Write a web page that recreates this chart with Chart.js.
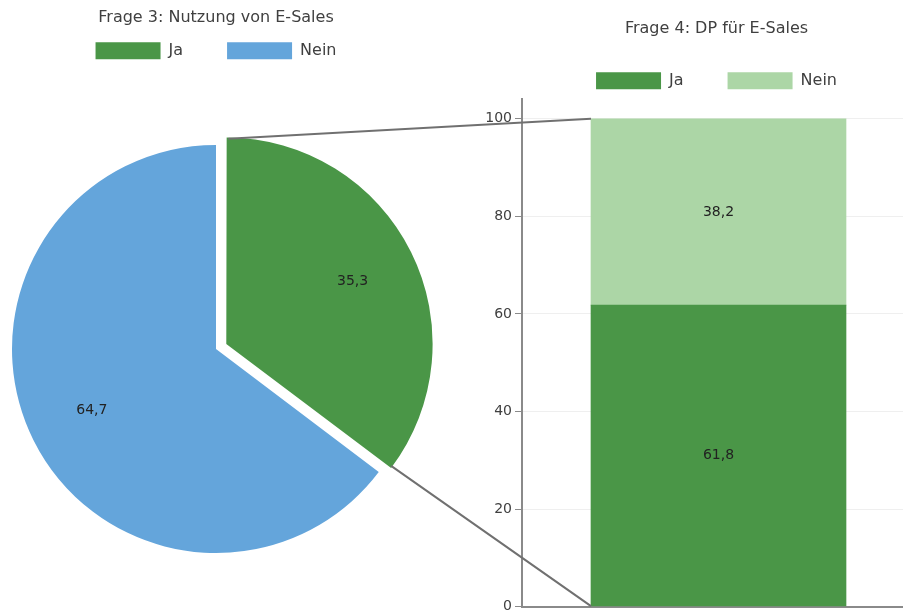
<!DOCTYPE html>
<html>
<head>
<meta charset="utf-8">
<script src="https://cdn.jsdelivr.net/npm/chart.js@4.4.1/dist/chart.umd.min.js"></script>
<style>
  html, body { margin: 0; padding: 0; background: #fff; overflow: hidden; width: 903px; height: 615px; }
  #pieWrap { position: absolute; left: 0; top: 0; width: 452px; height: 627px; }
  #barWrap { position: absolute; left: 440px; top: 0; width: 557px; height: 618px; }
  #links { position: absolute; left: 0; top: 0; pointer-events: none; }
</style>
</head>
<body>
<div id="pieWrap"><canvas id="pieChart"></canvas></div>
<div id="barWrap"><canvas id="barChart"></canvas></div>
<canvas id="links" width="903" height="615"></canvas>
<script>
const answerLabels = ['Ja', 'Nein'];
const q3Values = [35.3, 64.7];
const q4Ja = [61.8];
const q4Nein = [38.2];
const q4Categories = ['DP für E-Sales'];
const yTicks = [0, 20, 40, 60, 80, 100];

const green = '#4a9647';
const blue = '#64a5db';
const lightGreen = '#acd6a6';
const textColor = '#404040';
const font = 'DejaVu Sans';

Chart.defaults.font.family = font;
Chart.defaults.color = textColor;

const fmt = v => String(v).replace('.', ',');

// how far Chart.js really moves an arc with an offset (see ArcElement.draw)
function arcShift(arc) {
  const p = arc.getProps(['startAngle', 'endAngle', 'circumference']);
  const off = (arc.options.offset || 0) / 4;
  const fix = 1 - Math.sin(Math.min(Math.PI, p.circumference || 0));
  const d = off + off * fix;
  const mid = (p.startAngle + p.endAngle) / 2;
  return [Math.cos(mid) * d, Math.sin(mid) * d];
}

// value labels for the pie
const pieLabels = {
  id: 'pieLabels',
  afterDatasetsDraw(chart) {
    const ctx = chart.ctx;
    const meta = chart.getDatasetMeta(0);
    ctx.save();
    ctx.font = '14px ' + font;
    ctx.fillStyle = '#222';
    ctx.textAlign = 'center';
    ctx.textBaseline = 'middle';
    meta.data.forEach((arc, i) => {
      const p = arc.getProps(['x', 'y', 'startAngle', 'endAngle', 'outerRadius']);
      const mid = (p.startAngle + p.endAngle) / 2;
      const s = arcShift(arc);
      const r = p.outerRadius * 0.68;
      ctx.fillText(fmt(q3Values[i]), p.x + s[0] + Math.cos(mid) * r, p.y + s[1] + Math.sin(mid) * r);
    });
    ctx.restore();
  }
};

// value labels in the middle of each stacked bar segment
const barLabels = {
  id: 'barLabels',
  afterDatasetsDraw(chart) {
    const ctx = chart.ctx;
    ctx.save();
    ctx.font = '14px ' + font;
    ctx.fillStyle = '#222';
    ctx.textAlign = 'center';
    ctx.textBaseline = 'middle';
    chart.data.datasets.forEach((ds, di) => {
      chart.getDatasetMeta(di).data.forEach((bar, i) => {
        const p = bar.getProps(['x', 'y', 'base']);
        ctx.fillText(fmt(ds.data[i]), p.x, (p.y + p.base) / 2);
      });
    });
    ctx.restore();
  }
};

const legendLabels = {
  boxWidth: 65,
  boxHeight: 17,
  padding: 44,
  color: textColor,
  font: { size: 16 }
};

const pieChart = new Chart(document.getElementById('pieChart'), {
  type: 'pie',
  data: {
    labels: answerLabels,
    datasets: [{
      data: q3Values,
      backgroundColor: [green, blue],
      borderWidth: 0,
      offset: [46, 0],
      radius: 204,
      clip: false
    }]
  },
  options: {
    responsive: true,
    maintainAspectRatio: false,
    animation: false,
    layout: { padding: { right: 20 } },
    plugins: {
      title: {
        display: true,
        text: 'Frage 3: Nutzung von E-Sales',
        color: textColor,
        font: { size: 16, weight: 'normal' },
        padding: { top: 8, bottom: -29 }
      },
      legend: { labels: legendLabels },
      tooltip: { enabled: false }
    }
  },
  plugins: [pieLabels]
});

const barChart = new Chart(document.getElementById('barChart'), {
  type: 'bar',
  data: {
    labels: q4Categories,
    datasets: [
      { label: 'Ja', data: q4Ja, backgroundColor: green, barThickness: 255 },
      { label: 'Nein', data: q4Nein, backgroundColor: lightGreen, barThickness: 255 }
    ]
  },
  options: {
    responsive: true,
    maintainAspectRatio: false,
    animation: false,
    layout: { padding: { left: 32, right: 36, top: 14, bottom: 2 } },
    scales: {
      x: {
        stacked: true,
        grid: { display: false, drawTicks: false },
        ticks: { display: false },
        border: { color: '#8a8a8a', width: 2 }
      },
      y: {
        stacked: true,
        min: 0,
        max: 104,
        afterBuildTicks(scale) { scale.ticks = yTicks.map(v => ({ value: v })); },
        afterFit(scale) { scale.width = 50; },
        ticks: { color: textColor, font: { size: 14 }, padding: 3 },
        grid: { color: '#efefef', tickColor: '#8a8a8a', tickLength: 7 },
        border: { color: '#8a8a8a', width: 2 }
      },
      // empty right axis, only to keep the legend centred over the bar
      yRight: {
        position: 'right',
        min: 0,
        max: 104,
        afterFit(scale) { scale.width = 46; },
        ticks: { display: false },
        grid: { display: false },
        border: { display: false }
      }
    },
    plugins: {
      title: {
        display: true,
        text: 'Frage 4: DP für E-Sales',
        color: textColor,
        font: { size: 16, weight: 'normal' },
        padding: { top: 5, bottom: -10 }
      },
      legend: { labels: legendLabels },
      tooltip: { enabled: false }
    }
  },
  plugins: [barLabels]
});

// connector lines from the pulled-out slice to the stacked bar
function drawLinks() {
  const ctx = document.getElementById('links').getContext('2d');
  ctx.clearRect(0, 0, 903, 615);
  const pieBox = pieChart.canvas.getBoundingClientRect();
  const barBox = barChart.canvas.getBoundingClientRect();
  const arc = pieChart.getDatasetMeta(0).data[0];
  const p = arc.getProps(['x', 'y', 'startAngle', 'endAngle', 'outerRadius']);
  const s = arcShift(arc);
  const cx = pieBox.left + p.x + s[0];
  const cy = pieBox.top + p.y + s[1];
  const a = [cx + Math.cos(p.startAngle) * p.outerRadius, cy + Math.sin(p.startAngle) * p.outerRadius];
  const b = [cx + Math.cos(p.endAngle) * p.outerRadius, cy + Math.sin(p.endAngle) * p.outerRadius];
  const bottomBar = barChart.getDatasetMeta(0).data[0].getProps(['x', 'y', 'base', 'width']);
  const topBar = barChart.getDatasetMeta(1).data[0].getProps(['x', 'y', 'base', 'width']);
  const tl = [barBox.left + topBar.x - topBar.width / 2, barBox.top + topBar.y];
  const bl = [barBox.left + bottomBar.x - bottomBar.width / 2, barBox.top + bottomBar.base];
  ctx.strokeStyle = '#707070';
  ctx.lineWidth = 2;
  ctx.beginPath();
  ctx.moveTo(a[0], a[1]);
  ctx.lineTo(tl[0], tl[1]);
  ctx.moveTo(b[0], b[1]);
  ctx.lineTo(bl[0], bl[1]);
  ctx.stroke();
}
drawLinks();
</script>
</body>
</html>
